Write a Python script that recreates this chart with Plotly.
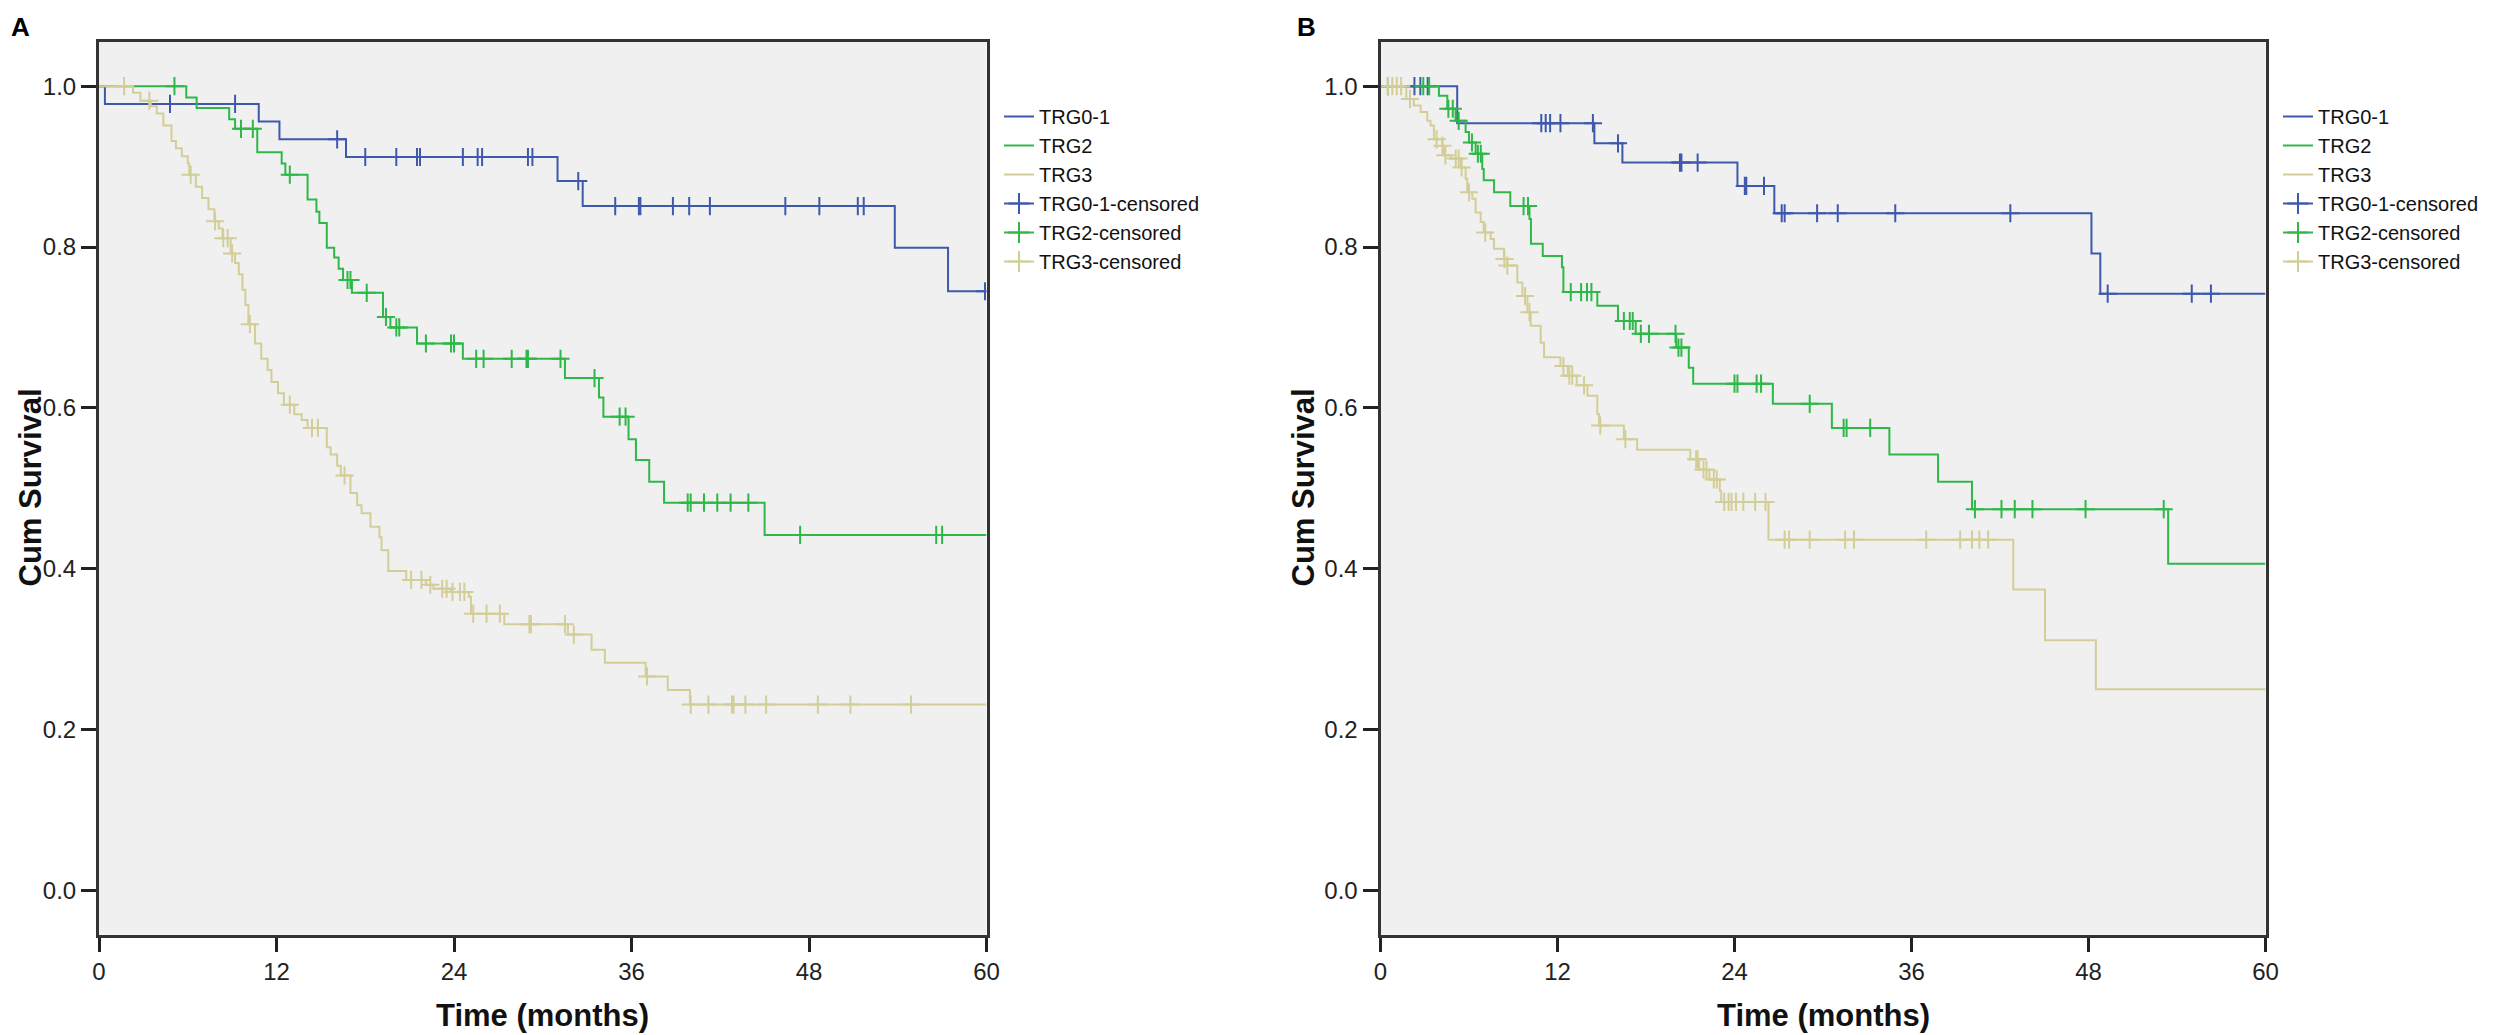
import plotly.graph_objects as go

# ---- Panel A (Kaplan-Meier step values) ----
a_trg01_t = [0, 0.4, 10.8, 12.2, 16.7, 31.0, 32.7, 53.8, 57.4, 60]
a_trg01_s = [1.0, 0.978, 0.956, 0.934, 0.912, 0.882, 0.851, 0.799, 0.745, 0.745]
a_trg01_cens = [4.8, 9.2, 16.1, 18.0, 20.1, 21.5, 21.7, 24.6, 25.6, 25.9, 29.0, 29.3,
                32.4, 34.9, 36.5, 36.6, 38.8, 39.9, 41.3, 46.4, 48.7, 51.3, 51.7, 59.9]

a_trg2_t = [0, 5.9, 6.6, 8.8, 9.2, 10.7, 12.35, 12.6, 14.1, 14.7, 14.9, 15.4, 15.9, 16.2,
            16.5, 17.1, 19.2, 19.7, 21.5, 24.6, 31.5, 33.8, 34.1, 35.8, 36.3, 37.2, 38.2, 45.0, 60]
a_trg2_s = [1.0, 0.986, 0.973, 0.959, 0.947, 0.918, 0.904, 0.890, 0.859, 0.844, 0.830, 0.799,
            0.787, 0.773, 0.759, 0.743, 0.713, 0.700, 0.680, 0.661, 0.637, 0.613, 0.589, 0.561,
            0.535, 0.508, 0.482, 0.442, 0.442]
a_trg2_cens = [5.1, 9.6, 10.4, 12.9, 16.8, 17.0, 18.1, 19.4, 20.1, 20.3, 22.1, 23.8, 24.0,
               25.5, 26.0, 27.9, 28.9, 29.0, 31.2, 33.5, 35.2, 35.6, 39.8, 40.0, 40.9, 41.8,
               42.7, 43.9, 47.4, 56.6, 57.0]

a_trg3_t = [0, 2.3, 2.8, 3.5, 3.9, 4.35, 4.9, 5.2, 5.6, 6.0, 6.1, 6.55, 6.97, 7.4, 7.8, 8.1,
            8.35, 8.9, 9.2, 9.45, 9.7, 9.9, 10.1, 10.55, 10.97, 11.4, 11.66, 12.1, 12.5, 13.2,
            13.7, 14.1, 15.4, 15.66, 16.1, 16.35, 17.0, 17.45, 17.75, 18.35, 18.96, 19.1, 19.56,
            20.77, 22.1, 22.6, 23.8, 25.0, 25.15, 27.4, 31.7, 33.3, 34.2, 36.95, 38.45, 39.95, 60]
a_trg3_s = [1.0, 0.992, 0.982, 0.975, 0.966, 0.951, 0.932, 0.923, 0.913, 0.904, 0.890, 0.875,
            0.861, 0.847, 0.832, 0.823, 0.811, 0.792, 0.780, 0.766, 0.747, 0.728, 0.704, 0.680,
            0.661, 0.647, 0.632, 0.618, 0.604, 0.592, 0.585, 0.575, 0.551, 0.542, 0.528, 0.516,
            0.494, 0.479, 0.469, 0.452, 0.439, 0.423, 0.397, 0.386, 0.380, 0.375, 0.371, 0.365,
            0.344, 0.331, 0.318, 0.299, 0.283, 0.266, 0.249, 0.231, 0.231]
a_trg3_cens = [1.7, 3.4, 6.2, 7.85, 8.4, 8.7, 9.0, 10.2, 12.9, 14.4, 14.8, 16.6, 21.1, 21.8,
               22.4, 23.2, 23.5, 23.9, 24.4, 24.7, 25.3, 26.2, 27.1, 29.1, 29.2, 31.5, 32.1,
               37.05, 40.0, 41.2, 42.8, 42.9, 43.7, 45.1, 48.6, 50.8, 54.9]

# ---- Panel B ----
b_trg01_t = [0, 5.2, 14.5, 16.4, 24.2, 26.7, 48.2, 48.8, 60]
b_trg01_s = [1.0, 0.954, 0.929, 0.905, 0.876, 0.842, 0.792, 0.742, 0.742]
b_trg01_cens = [2.3, 2.7, 3.2, 10.9, 11.2, 11.5, 12.2, 14.4, 16.1, 20.3, 20.4, 21.5, 24.7,
                24.8, 26.0, 27.2, 27.4, 29.6, 31.0, 34.9, 42.7, 49.3, 55.0, 56.3]

b_trg2_t = [0, 3.96, 4.53, 5.09, 5.77, 6.0, 6.45, 6.9, 7.0, 7.7, 8.8, 10.1, 10.2, 11.0, 12.3,
            12.4, 14.7, 16.1, 17.3, 20.05, 20.9, 21.2, 26.6, 30.6, 34.5, 37.8, 40.1, 53.4, 60]
b_trg2_s = [1.0, 0.988, 0.972, 0.957, 0.943, 0.930, 0.916, 0.897, 0.883, 0.868, 0.851, 0.835,
            0.804, 0.789, 0.775, 0.744, 0.727, 0.708, 0.692, 0.675, 0.650, 0.630, 0.605, 0.575,
            0.542, 0.508, 0.474, 0.406, 0.406]
b_trg2_cens = [0.5, 2.9, 3.3, 4.6, 4.9, 5.3, 6.2, 6.6, 6.8, 9.7, 10.0, 12.9, 13.6, 14.0, 14.3,
               16.5, 16.9, 17.1, 17.65, 18.2, 20.0, 20.2, 20.4, 24.0, 24.2, 25.5, 25.8, 29.1,
               31.4, 31.6, 33.2, 40.3, 42.1, 43.0, 44.2, 47.8, 53.1]

b_trg3_t = [0, 1.75, 2.26, 2.72, 3.17, 3.39, 3.62, 4.19, 4.30, 4.75, 5.43, 5.77, 5.88, 6.22,
            6.45, 6.79, 7.0, 7.47, 7.69, 8.37, 8.6, 9.28, 9.62, 9.96, 10.18, 10.86, 11.09, 12.2,
            12.7, 13.3, 14.03, 14.7, 14.82, 16.5, 17.4, 21.0, 21.6, 22.3, 23.0, 23.1, 26.3, 42.9,
            45.05, 48.5, 60]
b_trg3_s = [1.0, 0.984, 0.976, 0.968, 0.957, 0.951, 0.934, 0.926, 0.914, 0.910, 0.899, 0.885,
            0.868, 0.860, 0.843, 0.831, 0.818, 0.810, 0.798, 0.785, 0.777, 0.756, 0.739, 0.719,
            0.702, 0.681, 0.663, 0.652, 0.640, 0.628, 0.615, 0.592, 0.578, 0.561, 0.548, 0.536,
            0.523, 0.511, 0.497, 0.483, 0.436, 0.374, 0.311, 0.250, 0.250]
b_trg3_cens = [0.5, 0.8, 1.1, 1.4, 2.0, 3.8, 4.2, 4.4, 5.1, 5.3, 5.5, 6.0, 7.1, 8.4, 8.6, 9.8,
               10.1, 12.4, 12.8, 13.0, 13.8, 14.9, 16.6, 21.4, 21.5, 21.9, 22.1, 22.6, 22.8,
               23.3, 23.6, 23.8, 24.1, 24.6, 25.4, 26.1, 27.4, 27.7, 29.1, 31.5, 32.1, 37.0,
               39.3, 40.1, 40.6, 41.2]

group_names = ["TRG0-1", "TRG2", "TRG3"]
group_colors = ["#3E58AC", "#2EB848", "#D3CE97"]
y_ticks = [0.0, 0.2, 0.4, 0.6, 0.8, 1.0]
x_ticks = [0, 12, 24, 36, 48, 60]

W, H = 2511, 1035
OFF = 8  # the page body margin pushes the figure 8px right/down
FONT = "Liberation Sans, Arial, sans-serif"


def px(x):
    # page x pixel -> paper fraction
    return (x - OFF) / W


def py(y):
    # page y pixel -> paper fraction
    return 1 - (y - OFF) / H


def surv_at(times, surv, t):
    # value of the step curve at time t
    val = surv[0]
    for ti, si in zip(times, surv):
        if ti <= t:
            val = si
    return val


panels = [
    dict(xa="x", ya="y", legend="legend",
         curves=[(a_trg01_t, a_trg01_s, a_trg01_cens),
                 (a_trg2_t, a_trg2_s, a_trg2_cens),
                 (a_trg3_t, a_trg3_s, a_trg3_cens)]),
    dict(xa="x2", ya="y2", legend="legend2",
         curves=[(b_trg01_t, b_trg01_s, b_trg01_cens),
                 (b_trg2_t, b_trg2_s, b_trg2_cens),
                 (b_trg3_t, b_trg3_s, b_trg3_cens)]),
]

fig = go.Figure()

for p in panels:
    # survival step lines
    for name, color, (t, s, c) in zip(group_names, group_colors, p["curves"]):
        fig.add_trace(go.Scatter(
            x=t, y=s, mode="lines", name=name,
            line=dict(color=color, width=2, shape="hv"),
            xaxis=p["xa"], yaxis=p["ya"], legend=p["legend"],
        ))
    # censor ticks
    for name, color, (t, s, c) in zip(group_names, group_colors, p["curves"]):
        fig.add_trace(go.Scatter(
            x=c, y=[surv_at(t, s, ci) for ci in c], mode="markers",
            marker=dict(symbol="cross-thin", size=13, line=dict(color=color, width=2)),
            showlegend=False, xaxis=p["xa"], yaxis=p["ya"],
        ))
    # legend entries for the censored marks
    for name, color in zip(group_names, group_colors):
        fig.add_trace(go.Scatter(
            x=[None], y=[None], mode="lines+markers", name=name + "-censored",
            line=dict(color=color, width=2),
            marker=dict(symbol="cross-thin", size=15, line=dict(color=color, width=2)),
            xaxis=p["xa"], yaxis=p["ya"], legend=p["legend"],
        ))

# plot frames in page pixels
top, bottom = 42, 934.5
ydom = [py(bottom), py(top)]
xdoms = [[px(99), px(986.5)], [px(1380.5), px(2265.5)]]

axis_common = dict(
    showline=True, linewidth=3, linecolor="#333333", mirror=True,
    showgrid=False, zeroline=False, ticks="outside", tickwidth=3,
    tickcolor="#222222", tickfont=dict(family=FONT, size=24, color="#222222"),
    automargin=False, fixedrange=True,
)

legend_common = dict(
    font=dict(family=FONT, size=20, color="#111111"),
    bgcolor="rgba(0,0,0,0)", tracegroupgap=0, itemwidth=30,
    xanchor="left", yanchor="top", traceorder="normal",
)

fig.update_layout(
    width=W, height=H,
    margin=dict(l=0, r=0, t=0, b=0),
    paper_bgcolor="white", plot_bgcolor="#F0F0F0",
    font=dict(family=FONT, color="#111111"),
    xaxis=dict(domain=xdoms[0], range=[0, 60], tickvals=x_ticks, ticklen=14, **axis_common),
    yaxis=dict(domain=ydom, range=[-0.055, 1.055], tickvals=y_ticks, tickformat=".1f",
               ticklen=15, **axis_common),
    xaxis2=dict(domain=xdoms[1], range=[0, 60], tickvals=x_ticks, ticklen=14,
                anchor="y2", **axis_common),
    yaxis2=dict(domain=ydom, range=[-0.055, 1.055], tickvals=y_ticks, tickformat=".1f",
                ticklen=15, anchor="x2", **axis_common),
    legend=dict(x=px(999), y=py(97), **legend_common),
    legend2=dict(x=px(2278), y=py(97), **legend_common),
)

# axis titles and panel letters
title_font = dict(family=FONT, size=31, color="#111111")
for cx in [(99 + 986.5) / 2, (1380.5 + 2265.5) / 2]:
    fig.add_annotation(text="<b>Time (months)</b>", x=px(cx), y=py(1015),
                       xref="paper", yref="paper", showarrow=False, font=title_font,
                       xanchor="center", yanchor="middle")
for lx in [10, 1283]:
    fig.add_annotation(text="<b>Cum Survival</b>", x=px(lx), y=py(488),
                       xref="paper", yref="paper", showarrow=False, font=title_font,
                       textangle=-90, xanchor="left", yanchor="middle")
for lx, lab in [(9, "A"), (1295, "B")]:
    fig.add_annotation(text="<b>" + lab + "</b>", x=px(lx), y=py(10),
                       xref="paper", yref="paper", showarrow=False,
                       font=dict(family=FONT, size=26, color="#000000"),
                       xanchor="left", yanchor="top")

fig.write_html("out.html")
